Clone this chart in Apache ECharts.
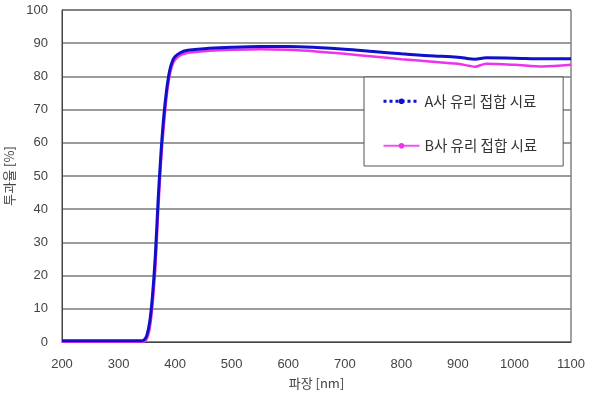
<!DOCTYPE html>
<html><head><meta charset="utf-8">
<script src="https://cdn.jsdelivr.net/npm/echarts@6/dist/echarts.min.js"></script>
<style>html,body{margin:0;padding:0;background:#fff}#c{width:590px;height:397px}</style>
</head><body><div id="c"></div>
<script>
const wavelengths = [200, 250, 300, 340, 345, 350, 355, 360, 365, 370, 375, 380, 385, 390, 395, 400, 410, 420, 440, 460, 500, 550, 600, 650, 700, 750, 800, 850, 900, 920, 930, 950, 1000, 1050, 1100];
const seriesA = [0.4, 0.4, 0.4, 0.4, 0.6, 2, 6, 14, 26, 43, 57, 68, 76, 81.5, 84.5, 86, 87.2, 87.8, 88.2, 88.5, 88.8, 89, 89, 88.7, 88.2, 87.5, 86.8, 86.2, 85.8, 85.3, 85.2, 85.6, 85.5, 85.3, 85.3];
const seriesB = [0.1, 0.1, 0.1, 0.1, 0.2, 1, 4, 11, 22, 39, 54, 65, 74, 80, 83.3, 85, 86.5, 87, 87.4, 87.7, 88, 88.2, 88, 87.5, 86.8, 86, 85.2, 84.5, 83.8, 83.2, 82.9, 83.8, 83.5, 83, 83.5];
const nameA = 'A사 유리 접합 시료';
const nameB = 'B사 유리 접합 시료';
const xTicks = {min: 200, max: 1100, interval: 100};
const yTicks = {min: 0, max: 100, interval: 10};

const chart = echarts.init(document.getElementById('c'));
const numFont = {fontFamily: 'Liberation Sans, Arial, sans-serif', fontSize: 13, color: '#444'};
chart.setOption({
  animation: false,
  backgroundColor: '#fff',
  grid: {left: 62, right: 19, top: 10, bottom: 55, show: true, borderColor: '#444', borderWidth: 1,
         containLabel: false, outerBoundsMode: 'none'},
  xAxis: {
    type: 'value', min: xTicks.min, max: xTicks.max, interval: xTicks.interval,
    name: '파장 [nm]', nameLocation: 'middle', nameGap: 35,
    nameTextStyle: {fontFamily: 'Noto Sans CJK KR', fontSize: 13, color: '#444'},
    axisLine: {show: true, lineStyle: {color: '#444'}}, axisTick: {show: false},
    axisLabel: Object.assign({margin: 16, formatter: v => String(v)}, numFont),
    splitLine: {show: false}
  },
  yAxis: {
    type: 'value', min: yTicks.min, max: yTicks.max, interval: yTicks.interval,
    name: '투과율 [%]', nameLocation: 'middle', nameGap: 44, nameRotate: 90,
    nameTextStyle: {fontFamily: 'Noto Sans CJK KR', fontSize: 13, color: '#444'},
    axisLine: {show: true, lineStyle: {color: '#444'}}, axisTick: {show: false},
    axisLabel: Object.assign({margin: 14, formatter: v => String(v)}, numFont),
    splitLine: {show: true, lineStyle: {color: '#7a7a7a', width: 1.5}}
  },
  legend: {
    orient: 'vertical', left: 364, top: 77,
    padding: [17, 26, 13, 18], itemGap: 30, itemWidth: 36, itemHeight: 7,
    backgroundColor: '#fff', borderColor: '#555', borderWidth: 1,
    textStyle: {fontFamily: 'Noto Sans CJK KR', fontSize: 14.5, color: '#333'},
    data: [
      {name: nameA, lineStyle: {type: 'dotted', width: 3, color: '#1010c8'}},
      {name: nameB, lineStyle: {width: 2, color: '#ee55ee'}}
    ]
  },
  series: [
    {
      name: nameA, type: 'line', smooth: 0.3,
      data: wavelengths.map((w, i) => [w, seriesA[i]]),
      symbol: 'circle', symbolSize: 4, showSymbol: false,
      lineStyle: {color: '#1010c8', width: 3},
      itemStyle: {color: '#1010c8'}, z: 3
    },
    {
      name: nameB, type: 'line', smooth: 0.3,
      data: wavelengths.map((w, i) => [w, seriesB[i]]),
      symbol: 'circle', symbolSize: 3, showSymbol: false,
      lineStyle: {color: '#ee33ee', width: 2.5},
      itemStyle: {color: '#ee33ee'}, z: 2
    }
  ]
});
</script></body></html>
